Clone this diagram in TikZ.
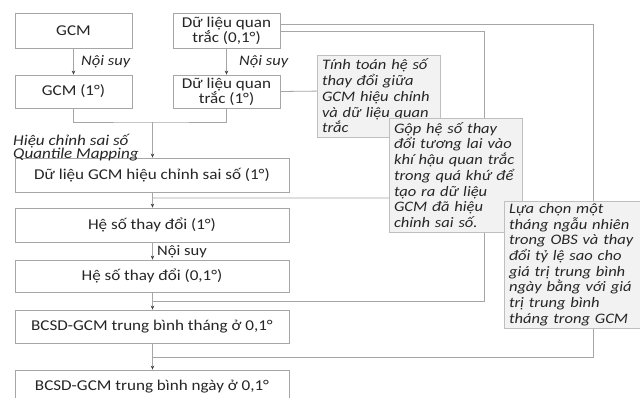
\documentclass[tikz,border=0pt]{standalone}
\usepackage{fontspec}
\setmainfont[FakeStretch=1.14]{Carlito}
\usetikzlibrary{arrows.meta}
\definecolor{bordc}{HTML}{A6A6A6}
\definecolor{linec}{HTML}{A6A6A6}
\definecolor{notefill}{HTML}{F2F2F2}
\definecolor{notebord}{HTML}{BFBFBF}
\definecolor{txt}{HTML}{262626}
\begin{document}
\begin{tikzpicture}[x=1pt,y=-1pt,
  box/.style={draw=bordc, line width=0.8pt, inner sep=0pt, align=center, text=txt,
    font=\fontsize{15}{15}\selectfont, fill=white},
  note/.style={draw=notebord, line width=0.8pt, fill=notefill, inner xsep=5pt, inner ysep=0pt,
    text=txt, align=left, font=\fontsize{14.5}{15.7}\selectfont\itshape},
  lbl/.style={inner sep=0pt, text=txt, font=\fontsize{14.5}{15}\selectfont\itshape, anchor=west},
  conn/.style={draw=linec, line width=0.8pt},
  arr/.style={conn, -{Stealth[length=4pt,width=3.5pt,color=black!75]}}]
\useasboundingbox[fill=white] (0,0) rectangle (640,398);

% main boxes
\node[box, minimum width=117pt, minimum height=35pt] (gcm) at (73.5,30.5) {GCM};
\node[box, minimum width=107pt, minimum height=35pt] (obs01) at (226.5,30.5) {Dữ liệu quan\\trắc (0,1°)};
\node[box, minimum width=117pt, minimum height=33pt] (gcm1) at (73.5,91.5) {GCM (1°)};
\node[box, minimum width=107pt, minimum height=33pt] (obs1) at (226.5,91.5) {Dữ liệu quan\\trắc (1°)};
\node[box, minimum width=274pt, minimum height=34pt] (gcmbc) at (152,175) {Dữ liệu GCM hiệu chỉnh sai số (1°)};
\node[box, minimum width=274pt, minimum height=34pt] (cf1) at (152,225) {Hệ số thay đổi (1°)};
\node[box, minimum width=274pt, minimum height=32pt] (cf01) at (152,276) {Hệ số thay đổi (0,1°)};
\node[box, minimum width=274pt, minimum height=33pt] (bcm) at (152,326.5) {BCSD-GCM trung bình tháng ở 0,1°};
\node[box, minimum width=274pt, minimum height=34pt] (bcd) at (152,387) {BCSD-GCM trung bình ngày ở 0,1°};

% labels
\node[lbl] (ns1) at (81,61.5) {Nội suy};
\node[lbl] (ns2) at (239,61.5) {Nội suy};
\node[lbl, font=\fontsize{14.5}{15}\selectfont] (ns3) at (157,252) {Nội suy};
\node[lbl, align=left, anchor=north west, font=\fontsize{15}{13.5}\selectfont\itshape] (qm) at (13,134) {Hiệu chỉnh sai số\\Quantile Mapping};

% junction coordinates
\coordinate (j1) at (152.5,122);
\coordinate (j2) at (152.5,198);
\coordinate (j3) at (152.5,301);
\coordinate (j4) at (152.5,357);
\coordinate (p2a) at (415,90);
\coordinate (p2b) at (415,198);
\coordinate (p3) at (484,301);
\coordinate (p4) at (593,357);

% connectors
\draw[arr] (gcm) -- (gcm1);
\draw[arr] (obs01) -- (obs1);
\draw[conn] (gcm1.south) |- (j1) -| (obs1.south);
\draw[arr] (j1) -- (j1 |- gcmbc.north);
\draw[conn] (obs1.east) -- (p2a) -- (p2b) -- (j2);
\draw[arr] (gcmbc.south -| j2) -- (cf1.north -| j2);
\draw[arr] (cf1.south -| j2) -- (cf01.north -| j2);
\draw[conn] ([yshift=-0.5pt]obs01.east) -| (p3) -- (j3);
\draw[arr] (cf01.south -| j3) -- (bcm.north -| j3);
\draw[conn] ([yshift=6pt]obs01.east) -| (p4) -- (j4);
\draw[arr] (bcm.south -| j4) -- (bcd.north -| j4);

% notes
\node[note, text width=113pt, minimum height=82pt] (n1) at (378.5,96)
  {Tính toán hệ số\\thay đổi giữa\\GCM hiệu chỉnh\\và dữ liệu quan\\trắc};
\node[note, text width=123pt, minimum height=114pt] (n2) at (455.5,175)
  {Gộp hệ số thay\\đổi tương lai vào\\khí hậu quan trắc\\trong quá khứ để\\tạo ra dữ liệu\\GCM đã hiệu\\chỉnh sai số.};
\node[note, text width=131pt, minimum height=127pt] (n3) at (574.5,264.5)
  {Lựa chọn một\\tháng ngẫu nhiên\\trong OBS và thay\\đổi tỷ lệ sao cho\\giá trị trung bình\\ngày bằng với giá\\trị trung bình\\tháng trong GCM};
\end{tikzpicture}
\end{document}
